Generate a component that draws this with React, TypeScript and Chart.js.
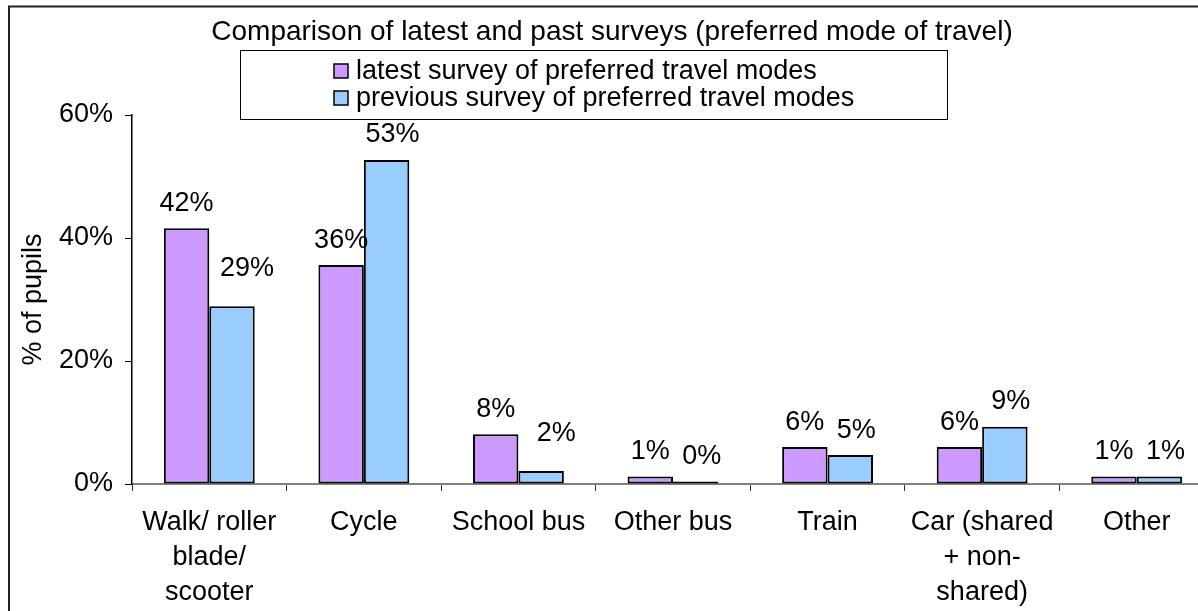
import React, { useEffect, useRef } from "react";
import { Chart, registerables } from "chart.js";

Chart.register(...registerables);

const FONT = '"Liberation Sans", Arial, Helvetica, sans-serif';

const chartTitle = "Comparison of latest and past surveys (preferred mode of travel)";
const yAxisTitle = "% of pupils";
const categories = [
  ["Walk/ roller", "blade/", "scooter"],
  ["Cycle"],
  ["School bus"],
  ["Other bus"],
  ["Train"],
  ["Car (shared", "+ non-", "shared)"],
  ["Other"],
];
const seriesLabels = [
  "latest survey of preferred travel modes",
  "previous survey of preferred travel modes",
];
const latestValues = [41.6, 35.6, 8.1, 1.2, 6.0, 6.0, 1.2];
const previousValues = [28.9, 52.7, 2.1, 0.4, 4.7, 9.3, 1.2];
const yTicks = [0, 20, 40, 60];
const seriesColors = ["#CC99FF", "#99CCFF"];

const decorPlugin = {
  id: "decor",
  beforeDraw(chart: any) {
    const ctx = chart.ctx;
    ctx.save();
    ctx.fillStyle = "#ffffff";
    ctx.fillRect(0, 0, chart.width, chart.height);
    ctx.strokeStyle = "#222222";
    ctx.lineWidth = 2;
    ctx.strokeRect(9, 6.5, chart.width - 12, chart.height - 10);
    ctx.restore();
  },
  afterDatasetsDraw(chart: any) {
    const ctx = chart.ctx;
    ctx.save();
    ctx.font = `27px ${FONT}`;
    ctx.fillStyle = "#000";
    ctx.textAlign = "center";
    ctx.textBaseline = "middle";
    chart.data.datasets.forEach((ds: any, i: number) => {
      const meta = chart.getDatasetMeta(i);
      meta.data.forEach((bar: any, j: number) => {
        const v = ds.data[j];
        let x = bar.x;
        let y = bar.y - 25;
        if (i === 1 && latestValues[j] - v >= 2) {
          x += 15;
          y -= 13;
        } else if (i === 1) {
          x += 6;
        }
        ctx.fillText(`${Math.round(v)}%`, x, y);
      });
    });
    ctx.restore();
  },
  afterDraw(chart: any) {
    const ctx = chart.ctx;
    ctx.save();
    ctx.fillStyle = "#000";
    ctx.font = `28px ${FONT}`;
    ctx.textAlign = "center";
    ctx.textBaseline = "middle";
    ctx.fillText(chartTitle, 612, 32);

    // legend box
    ctx.font = `27px ${FONT}`;
    ctx.strokeStyle = "#000";
    ctx.lineWidth = 1;
    ctx.strokeRect(240.5, 50.5, 707, 69);
    ctx.textAlign = "left";
    seriesLabels.forEach((lab, i) => {
      const cy = 71 + i * 27;
      ctx.fillStyle = seriesColors[i];
      ctx.fillRect(334, cy - 7, 14, 14);
      ctx.strokeStyle = "#000";
      ctx.lineWidth = 1.5;
      ctx.strokeRect(334, cy - 7, 14, 14);
      ctx.fillStyle = "#000";
      ctx.fillText(lab, 356, cy + 1);
    });
    ctx.restore();
  },
};

export default function App() {
  const ref = useRef<HTMLCanvasElement | null>(null);

  useEffect(() => {
    if (!ref.current) return;
    const chart = new Chart(ref.current, {
      type: "bar",
      data: {
        labels: categories,
        datasets: [
          {
            label: seriesLabels[0],
            data: latestValues,
            backgroundColor: seriesColors[0],
            borderColor: "#000",
            borderWidth: 2,
            borderSkipped: false,
            categoryPercentage: 0.588,
            barPercentage: 1,
          },
          {
            label: seriesLabels[1],
            data: previousValues,
            backgroundColor: seriesColors[1],
            borderColor: "#000",
            borderWidth: 2,
            borderSkipped: false,
            categoryPercentage: 0.588,
            barPercentage: 1,
          },
        ],
      },
      options: {
        responsive: false,
        animation: false,
        devicePixelRatio: 1,
        layout: { padding: { top: 115, right: 16, bottom: 30, left: 0 } },
        plugins: {
          legend: { display: false },
          title: { display: false },
          tooltip: { enabled: false },
        },
        scales: {
          x: {
            offset: true,
            grid: {
              offset: true,
              drawOnChartArea: false,
              drawTicks: true,
              tickLength: 7,
              color: "#333",
              lineWidth: 1,
            },
            border: { display: true, color: "#808080", width: 2 },
            ticks: {
              color: "#000",
              font: { family: FONT, size: 27, lineHeight: 35 / 27 },
              padding: 14,
              maxRotation: 0,
              autoSkip: false,
            },
            afterFit: (s: any) => {
              s.height = 126;
            },
          },
          y: {
            min: 0,
            max: 60,
            afterBuildTicks: (s: any) => {
              s.ticks = yTicks.map((v) => ({ value: v }));
            },
            grid: {
              drawOnChartArea: false,
              drawTicks: true,
              tickLength: 7,
              color: "#000",
              lineWidth: 1,
            },
            border: { display: true, color: "#000", width: 1.5 },
            ticks: {
              color: "#000",
              font: { family: FONT, size: 27 },
              padding: 12,
              callback: (v: any) => `${v}%`,
            },
            title: {
              display: true,
              text: yAxisTitle,
              color: "#000",
              font: { family: FONT, size: 27, lineHeight: 1.2 },
              padding: { top: 17, bottom: 0 },
            },
            afterFit: (s: any) => {
              s.width = 132;
            },
          },
        },
      },
      plugins: [decorPlugin],
    });
    return () => chart.destroy();
  }, []);

  return (
    <div
      style={{
        position: "fixed",
        left: 0,
        top: 0,
        width: 1198,
        height: 611,
        overflow: "hidden",
        background: "#fff",
      }}
    >
      <canvas ref={ref} width={1230} height={640} style={{ display: "block" }} />
    </div>
  );
}
